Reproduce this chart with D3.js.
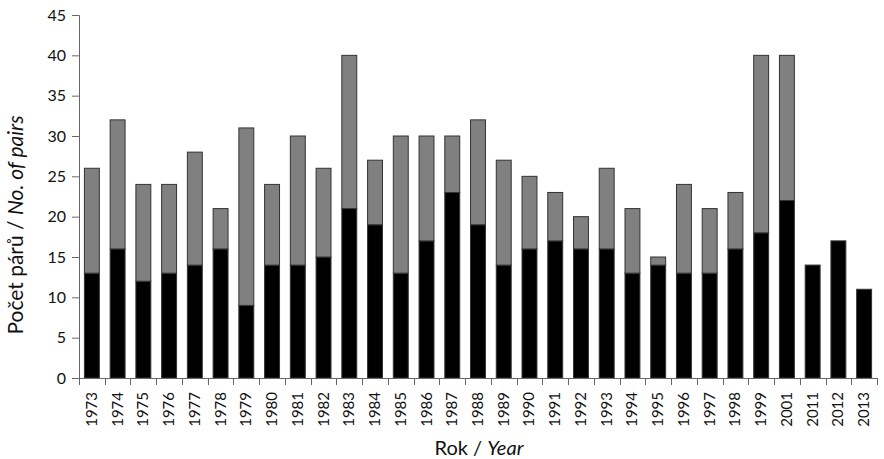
<!DOCTYPE html>
<html>
<head>
<meta charset="utf-8">
<script src="https://cdn.jsdelivr.net/npm/d3@7"></script>
<style>
  body { margin: 0; background: #fff; }
  svg text { font-family: Lato, "Open Sans", sans-serif; fill: #111; }
</style>
</head>
<body>
<svg id="chart"></svg>
<script>
'use strict';

// data
const years = ['1973','1974','1975','1976','1977','1978','1979','1980','1981','1982',
  '1983','1984','1985','1986','1987','1988','1989','1990','1991','1992','1993','1994',
  '1995','1996','1997','1998','1999','2001','2011','2012','2013'];
const blackVals = [13,16,12,13,14,16,9,14,14,15,21,19,13,17,23,19,14,16,17,16,16,13,14,13,13,16,18,22,14,17,11];
const totalVals = [26,32,24,24,28,21,31,24,30,26,40,27,30,30,30,32,27,25,23,20,26,21,15,24,21,23,40,40,14,17,11];
const yTicks = [0,5,10,15,20,25,30,35,40,45];

const width = 884, height = 459;
const mLeft = 79, mRight = 877, mTop = 15, mBottom = 378;

const svg = d3.select('#chart').attr('width', width).attr('height', height);

const x = d3.scaleBand().domain(years).range([mLeft, mRight]).paddingInner(0.42).paddingOuter(0.21);
const xb = d3.scaleBand().domain(years).range([mLeft, mRight]);
const y = d3.scaleLinear().domain([0, 45]).range([mBottom, mTop]);

const rows = years.map((yr, i) => ({ yr: yr, black: blackVals[i], grey: totalVals[i] - blackVals[i] }));

// bars - black part
svg.append('g').selectAll('rect')
  .data(rows).enter().append('rect')
  .attr('x', d => x(d.yr))
  .attr('y', d => y(d.black))
  .attr('width', x.bandwidth())
  .attr('height', d => y(0) - y(d.black))
  .attr('fill', '#000')
  .attr('stroke', '#333')
  .attr('stroke-width', 1);

// bars - grey part
svg.append('g').selectAll('rect')
  .data(rows.filter(d => d.grey > 0)).enter().append('rect')
  .attr('x', d => x(d.yr))
  .attr('y', d => y(d.black + d.grey))
  .attr('width', x.bandwidth())
  .attr('height', d => y(d.black) - y(d.black + d.grey))
  .attr('fill', '#808080')
  .attr('stroke', '#333')
  .attr('stroke-width', 1);

// y axis
const yAxis = svg.append('g')
  .attr('transform', 'translate(' + mLeft + ',0)')
  .call(d3.axisLeft(y).tickValues(yTicks).tickSize(7).tickPadding(6));
yAxis.selectAll('text').style('font-size', '16px');

// x axis: ticks on band edges, labels in the middle
const xAxis = svg.append('g').attr('transform', 'translate(0,' + mBottom + ')');
xAxis.append('line')
  .attr('x1', mLeft).attr('x2', mRight).attr('y1', 0.5).attr('y2', 0.5)
  .attr('stroke', '#666');
xAxis.selectAll('.xt')
  .data(years.concat(['end'])).enter().append('line')
  .attr('x1', (d, i) => Math.round(mLeft + i * xb.step()) + 0.5)
  .attr('x2', (d, i) => Math.round(mLeft + i * xb.step()) + 0.5)
  .attr('y1', 0).attr('y2', 7)
  .attr('stroke', '#666');
xAxis.selectAll('.xl')
  .data(years).enter().append('text')
  .attr('transform', d => 'translate(' + (xb(d) + xb.bandwidth() / 2 + 5) + ',14) rotate(-90)')
  .attr('text-anchor', 'end')
  .style('font-size', '15px')
  .text(d => d);

yAxis.select('.domain').attr('stroke', '#666');
yAxis.selectAll('.tick line').attr('stroke', '#666');

// axis titles
const xt = svg.append('text')
  .attr('x', 479).attr('y', 455)
  .attr('text-anchor', 'middle')
  .style('font-size', '20px');
xt.append('tspan').text('Rok / ');
xt.append('tspan').style('font-style', 'italic').text('Year');

const yt = svg.append('text')
  .attr('transform', 'translate(23,225) rotate(-90)')
  .attr('text-anchor', 'middle')
  .style('font-size', '21px');
yt.append('tspan').text('Počet párů / ');
yt.append('tspan').style('font-style', 'italic').text('No. of pairs');
</script>
</body>
</html>
